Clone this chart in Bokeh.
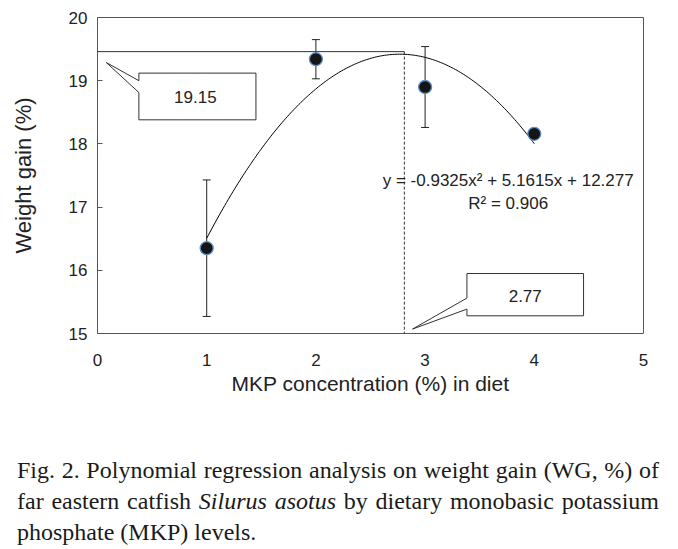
import numpy as np
from bokeh.plotting import figure
from bokeh.models import ColumnDataSource, Range1d, FixedTicker, Whisker, TeeHead, Div
from bokeh.layouts import column
from bokeh.embed import file_html
from bokeh.resources import INLINE
from bokeh.core.properties import value

# ---------------- data ----------------
mkp_levels = [1, 2, 3, 4]
weight_gain = [16.35, 19.34, 18.90, 18.16]
weight_gain_sd = [1.08, 0.31, 0.64, 0.04]

# regression shown on the chart
fit_a, fit_b, fit_c = -0.9325, 5.1615, 12.277
r_squared = 0.906
equation_text = "y = -0.9325x\u00b2 + 5.1615x + 12.277"
r2_text = "R\u00b2 = 0.906"

x_ticks = [0, 1, 2, 3, 4, 5]
y_ticks = [15, 16, 17, 18, 19, 20]

# reference lines (as drawn in the figure)
opt_x_line = 2.81
opt_y_line = 19.46

# callouts: text, box (left, right, top, bottom), pointer gap on left edge, pointer tip
callout_texts = ["19.15", "2.77"]
callout_boxes = [(0.379, 1.451, 19.12, 18.381), (3.383, 4.451, 15.949, 15.28)]
callout_gaps = [(19.0, 18.813), (15.560, 15.386)]
callout_tips = [(0.08, 19.288), (2.885, 15.07)]
callout_label_pos = [(0.896, 18.75), (3.917, 15.597)]

eq_pos = (3.761, 17.414)
r2_pos = (3.761, 17.05)

caption_lines = [
    "Fig. 2. Polynomial regression analysis on weight gain (WG, %) of",
    "far eastern catfish <i>Silurus asotus</i> by dietary monobasic potassium",
    "phosphate (MKP) levels.",
]
caption_justify = [True, True, False]

FONT = "Liberation Sans"
SERIF = "Liberation Serif"
TXT = "#222222"

# ---------------- chart ----------------
p = figure(width=670, height=408, x_range=Range1d(0, 5), y_range=Range1d(15, 20),
           output_backend="svg", toolbar_location=None,
           min_border_left=97, min_border_right=27, min_border_top=17, min_border_bottom=75)
p.xgrid.visible = False
p.ygrid.visible = False
p.outline_line_color = "#555555"
p.outline_line_width = 1
p.background_fill_color = "white"
p.border_fill_color = "white"

p.xaxis.ticker = FixedTicker(ticks=x_ticks)
p.yaxis.ticker = FixedTicker(ticks=y_ticks)
for ax in (p.xaxis, p.yaxis):
    ax.axis_line_color = None
    ax.minor_tick_line_color = None
    ax.major_label_text_font = FONT
    ax.major_label_text_font_size = "17px"
    ax.major_label_text_color = TXT
    ax.axis_label_text_font = FONT
    ax.axis_label_text_font_style = "normal"
    ax.axis_label_text_color = TXT
p.xaxis.axis_label_text_font_size = "21px"
p.yaxis.axis_label_text_font_size = "22px"
p.xaxis.major_tick_line_color = None
p.xaxis.major_label_standoff = 14
p.xaxis.axis_label = "MKP concentration (%) in diet"
p.xaxis.axis_label_standoff = 3
p.yaxis.major_tick_line_color = "#555555"
p.yaxis.major_tick_in = 5
p.yaxis.major_tick_out = 0
p.yaxis.major_label_standoff = 10
p.yaxis.axis_label = "Weight gain (%)"
p.yaxis.axis_label_standoff = 30

# reference lines
p.line([0, opt_x_line], [opt_y_line, opt_y_line], line_color="#333333", line_width=1)
p.line([opt_x_line, opt_x_line], [opt_y_line, 15], line_color="#333333", line_width=1,
       line_dash="3 2")

# fitted curve
xf = np.linspace(min(mkp_levels), max(mkp_levels), 200)
yf = fit_a * xf ** 2 + fit_b * xf + fit_c
p.line(xf, yf, line_color="black", line_width=1)

# error bars + points
src = ColumnDataSource(dict(
    x=mkp_levels, y=weight_gain,
    upper=[v + s for v, s in zip(weight_gain, weight_gain_sd)],
    lower=[v - s for v, s in zip(weight_gain, weight_gain_sd)],
))
wh = Whisker(source=src, base="x", upper="upper", lower="lower", dimension="height",
             line_color="#222222", line_width=1,
             upper_head=TeeHead(size=8, line_color="#222222", line_width=1),
             lower_head=TeeHead(size=8, line_color="#222222", line_width=1))
p.add_layout(wh)
p.scatter("x", "y", source=src, size=13, fill_color="#151515",
          line_color="#5b8fc9", line_width=1.3)

# callouts
for txt, box, gap, tip, lp in zip(callout_texts, callout_boxes, callout_gaps,
                                  callout_tips, callout_label_pos):
    l, r, t, b = box
    xs = [l, r, r, l, l, tip[0], l, l]
    ys = [t, t, b, b, gap[1], tip[1], gap[0], t]
    p.patch(xs, ys, fill_color="white", line_color="#333333", line_width=1)
    p.text(x=[lp[0]], y=[lp[1]], text=[txt], text_font=value(FONT), text_font_size="17px",
           text_color=TXT, text_align="center", text_baseline="middle")

# equation
p.text(x=[eq_pos[0], r2_pos[0]], y=[eq_pos[1], r2_pos[1]], text=[equation_text, r2_text],
       text_font=value(FONT), text_font_size="17px", text_color=TXT,
       text_align="center", text_baseline="middle")

# ---------------- caption ----------------
rows = []
for line, just in zip(caption_lines, caption_justify):
    align = "justify" if just else "left"
    rows.append("<div style=\"text-align:%s;text-align-last:%s;white-space:nowrap;\">%s</div>"
                % (align, align, line))
cap = Div(
    text=("<div style=\"font-family:'Liberation Serif',serif;font-size:24px;line-height:31px;"
          "color:#1a1a1a;width:654px;margin:0;padding:42px 0 0 12px;\">"
          + "".join(rows) + "</div>"),
    width=670, height=133,
)

layout = column(p, cap, spacing=0)
open("out.html", "w").write(file_html(layout, INLINE))
